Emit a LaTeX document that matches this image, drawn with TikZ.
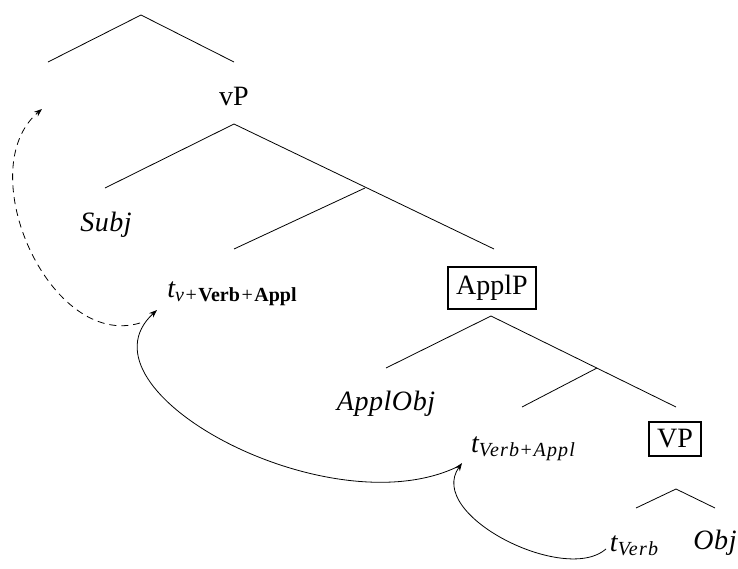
\documentclass[tikz,border=0pt]{standalone}
\usepackage{fontspec}
\setmainfont{Liberation Serif}
\usetikzlibrary{arrows.meta}
\newcommand{\lblit}[1]{{\itshape\addfontfeatures{LetterSpace=2}#1}}
\newcommand{\sublit}[1]{{\itshape\addfontfeatures{LetterSpace=6}#1}}
\newcommand{\subpl}{\hspace{0.08em}{\upshape\mdseries +}\hspace{0.08em}}
\newcommand{\subsz}{\fontsize{20}{20}\selectfont}
\begin{document}
\begin{tikzpicture}[x=1pt,y=-1pt,
  lbl/.style={font=\fontsize{28}{30}\selectfont, inner sep=0pt, anchor=base},
  boxed/.style={font=\fontsize{28}{30}\selectfont, draw, line width=1.8pt, inner sep=8pt},
  edge/.style={line width=0.8pt},
  mv/.style={line width=0.8pt, -{Stealth[length=8pt,width=6pt]}},
]
\useasboundingbox (0,0) rectangle (738,568);
% top (empty) root
\coordinate (r0) at (141,15);
\coordinate (r0L) at (48,62);
\coordinate (r0R) at (234,62);
\coordinate (spec) at (42,109);
\draw[edge] (r0L) -- (r0) -- (r0R);
% vP
\node[lbl] (vP) at (234,105) {vP};
\coordinate (vPa) at (234,124);
\coordinate (vPL) at (105,188);
\coordinate (vPR) at (494,249);
\coordinate (vPb) at (365,188);
\coordinate (vPbL) at (234,249);
\draw[edge] (vPL) -- (vPa) -- (vPR);
\draw[edge] (vPb) -- (vPbL);
\node[lbl] (subj) at (106,231) {\lblit{Subj}};
\node[lbl] (tv) at (232,297) {\lblit{t}\raisebox{-4pt}{\subsz\sublit{v}\subpl\textbf{Verb}\subpl\textbf{Appl}}};
% ApplP
\node[boxed] (applp) at (492,288) {ApplP};
\coordinate (Aa) at (491,316);
\coordinate (AL) at (386,368);
\coordinate (AR) at (676,407);
\coordinate (Ab) at (597,368);
\coordinate (AbL) at (522,407);
\draw[edge] (AL) -- (Aa) -- (AR);
\draw[edge] (Ab) -- (AbL);
\node[lbl] (applobj) at (386,410) {\lblit{ApplObj}};
\node[lbl] (tva) at (523,452) {\lblit{t}\raisebox{-4pt}{\subsz\sublit{Verb}\subpl\sublit{Appl}}};
% VP
\node[boxed] (vp) at (675,439) {VP};
\coordinate (Va) at (676,489);
\coordinate (VL) at (636,508);
\coordinate (VR) at (715,508);
\draw[edge] (VL) -- (Va) -- (VR);
\node[lbl] (tverb) at (634,551) {\lblit{t}\raisebox{-4pt}{\subsz\sublit{Verb}}};
\node[lbl] (obj) at (715,549) {\lblit{Obj}};
% movement arrows
\coordinate (tvOut) at (140,323);
\coordinate (tvIn) at (157,310);
\coordinate (tvaIn) at (462,463);
\coordinate (tvaOut) at (459,466);
\coordinate (tverbOut) at (606,549);
\draw[mv, dashed, dash pattern=on 7pt off 5pt] (tvOut) .. controls (50,350) and (-30,170) .. (spec);
\draw[mv] (tvaOut) .. controls (330,530) and (70,390) .. (tvIn);
\draw[mv] (tverbOut) .. controls (565,585) and (425,515) .. (tvaIn);
\end{tikzpicture}
\end{document}
